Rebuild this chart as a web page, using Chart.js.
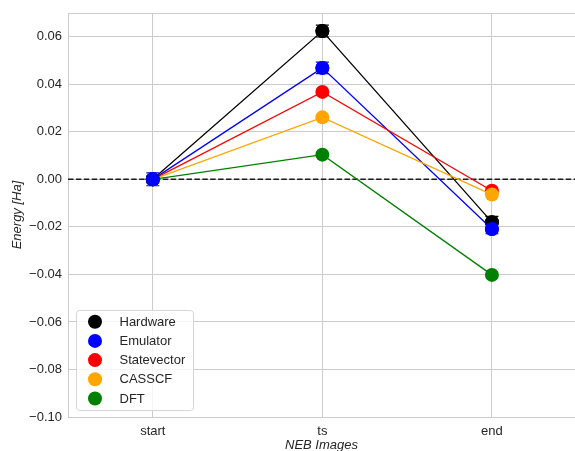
<!DOCTYPE html>
<html>
<head>
<meta charset="utf-8">
<script src="https://cdn.jsdelivr.net/npm/chart.js@4.4.1/dist/chart.umd.min.js"></script>
<style>
  html, body { margin: 0; padding: 0; background: #ffffff; overflow: hidden; }
  #wrap { width: 575px; height: 451px; }
</style>
</head>
<body>
<div id="wrap"><canvas id="nebChart" width="575" height="451"></canvas></div>
<script>
// ---- data ----
var imageLabels = ['start', 'ts', 'end'];
var seriesNames = ['Hardware', 'Emulator', 'Statevector', 'CASSCF', 'DFT'];
var seriesColors = ['#000000', '#0000ff', '#ff0000', '#ffa500', '#008000'];

var hardwareEnergy    = [0.0, 0.0624, -0.0180];
var emulatorEnergy    = [0.0, 0.0469, -0.0209];
var statevectorEnergy = [0.0, 0.0368, -0.0048];
var casscfEnergy      = [0.0, 0.0261, -0.0064];
var dftEnergy         = [0.0, 0.0104, -0.0402];

var hardwareError = [0.0015, 0.0025, 0.0024];
var emulatorError = [0.0027, 0.0024, 0.0020];

var yTicks = [-0.10, -0.08, -0.06, -0.04, -0.02, 0.00, 0.02, 0.04, 0.06];

var allEnergies = [hardwareEnergy, emulatorEnergy, statevectorEnergy, casscfEnergy, dftEnergy];
var allErrors = [hardwareError, emulatorError, null, null, null];

var gridColor = '#cccccc';
var textColor = '#262626';
var fontFamily = "'Liberation Sans', Arial, sans-serif";

function toPoints(values)
{
	return values.map(function(v, i){ return {x: i, y: v}; });
}

function noPadding()
{
	return {left: 0, top: 0, right: 0, bottom: 0};
}

var datasets = seriesNames.map(function(name, i)
{
	return {
		label: name,
		data: toPoints(allEnergies[i]),
		borderColor: seriesColors[i],
		backgroundColor: seriesColors[i],
		pointBackgroundColor: seriesColors[i],
		pointBorderColor: seriesColors[i],
		borderWidth: 1.3,
		pointRadius: 7,
		pointBorderWidth: 0,
		pointHoverRadius: 7,
		tension: 0,
		errors: allErrors[i],
		order: seriesNames.length - i   // later series drawn on top, like matplotlib
	};
});

// zero reference line + top spine
var zeroLinePlugin = {
	id: 'zeroLine',
	beforeDatasetsDraw: function(chart)
	{
		var ctx = chart.ctx, area = chart.chartArea, y = chart.scales.y.getPixelForValue(0);
		ctx.save();
		ctx.strokeStyle = gridColor;
		ctx.lineWidth = 1;
		ctx.beginPath();
		ctx.moveTo(area.left, Math.round(area.top) + 0.5);
		ctx.lineTo(area.right, Math.round(area.top) + 0.5);
		ctx.stroke();
		ctx.strokeStyle = '#1a1a1a';
		ctx.lineWidth = 1.5;
		ctx.setLineDash([5.5, 2.4]);
		ctx.beginPath();
		ctx.moveTo(area.left, y);
		ctx.lineTo(area.right, y);
		ctx.stroke();
		ctx.restore();
	}
};

// error bars with caps, marker redrawn on top (as matplotlib errorbar does)
var errorBarPlugin = {
	id: 'errorBars',
	afterDatasetsDraw: function(chart)
	{
		var ctx = chart.ctx, xs = chart.scales.x, ys = chart.scales.y;
		ctx.save();
		chart.data.datasets.forEach(function(ds)
		{
			if(!ds.errors) return;
			ds.data.forEach(function(p, i)
			{
				var px = xs.getPixelForValue(p.x);
				var py = ys.getPixelForValue(p.y);
				var top = ys.getPixelForValue(p.y + ds.errors[i]);
				var bot = ys.getPixelForValue(p.y - ds.errors[i]);
				ctx.strokeStyle = ds.borderColor;
				ctx.lineWidth = 1.2;
				ctx.beginPath();
				ctx.moveTo(px, top); ctx.lineTo(px, bot);
				ctx.moveTo(px - 6.5, top); ctx.lineTo(px + 6.5, top);
				ctx.moveTo(px - 6.5, bot); ctx.lineTo(px + 6.5, bot);
				ctx.stroke();
				ctx.fillStyle = ds.backgroundColor;
				ctx.beginPath();
				ctx.arc(px, py, ds.pointRadius, 0, Math.PI * 2);
				ctx.fill();
			});
		});
		ctx.restore();
	}
};

// legend box inside the plot, lower left
var insideLegendPlugin = {
	id: 'insideLegend',
	afterDraw: function(chart)
	{
		var ctx = chart.ctx;
		var bx = 76, by = 310, bw = 117, bh = 100, r = 3;
		ctx.save();
		ctx.fillStyle = 'rgba(255,255,255,0.8)';
		ctx.strokeStyle = '#d6d6d6';
		ctx.lineWidth = 1;
		ctx.beginPath();
		ctx.roundRect(bx + 0.5, by + 0.5, bw, bh, r);
		ctx.fill();
		ctx.stroke();
		ctx.font = '13px ' + fontFamily;
		ctx.textBaseline = 'middle';
		chart.data.datasets.forEach(function(ds, i)
		{
			var cy = 321.7 + i * 19.2;
			ctx.fillStyle = ds.backgroundColor;
			ctx.beginPath();
			ctx.arc(95, cy, 7, 0, Math.PI * 2);
			ctx.fill();
			ctx.fillStyle = textColor;
			ctx.fillText(ds.label, 119.5, cy + 0.5);
		});
		ctx.restore();
	}
};

new Chart(document.getElementById('nebChart'), {
	type: 'line',
	data: { datasets: datasets },
	options: {
		responsive: false,
		animation: false,
		events: [],
		layout: { autoPadding: false, padding: { top: 13, right: 0, left: 0, bottom: 0 } },
		plugins: {
			legend: { display: false },
			tooltip: { enabled: false }
		},
		scales: {
			x: {
				type: 'linear',
				min: -0.5,
				max: 2.49,
				afterBuildTicks: function(scale){ scale.ticks = imageLabels.map(function(l, i){ return {value: i}; }); },
				afterFit: function(scale){ scale.height = 34; scale.getPadding = noPadding; },
				ticks: {
					color: textColor,
					font: { family: fontFamily, size: 13 },
					padding: 7,
					callback: function(v){ return imageLabels[v]; }
				},
				grid: { color: gridColor, lineWidth: 1, drawTicks: false },
				border: { color: gridColor, width: 1 },
				title: {
					display: true,
					text: 'NEB Images',
					color: textColor,
					font: { family: fontFamily, size: 13, style: 'italic' },
					padding: { top: 0, bottom: -2 }
				}
			},
			y: {
				min: -0.10,
				max: 0.07,
				afterBuildTicks: function(scale){ scale.ticks = yTicks.map(function(v){ return {value: v}; }); },
				afterFit: function(scale){ scale.width = 68; scale.getPadding = noPadding; },
				ticks: {
					color: textColor,
					font: { family: fontFamily, size: 13 },
					padding: 6,
					callback: function(v){ return v.toFixed(2).replace('-', '\u2212'); }
				},
				grid: { color: gridColor, lineWidth: 1, drawTicks: false },
				border: { color: gridColor, width: 1 },
				title: {
					display: true,
					text: 'Energy [Ha]',
					color: textColor,
					font: { family: fontFamily, size: 13, style: 'italic' },
					padding: { top: 10, bottom: 0 }
				}
			}
		}
	},
	plugins: [zeroLinePlugin, errorBarPlugin, insideLegendPlugin]
});
</script>
</body>
</html>
